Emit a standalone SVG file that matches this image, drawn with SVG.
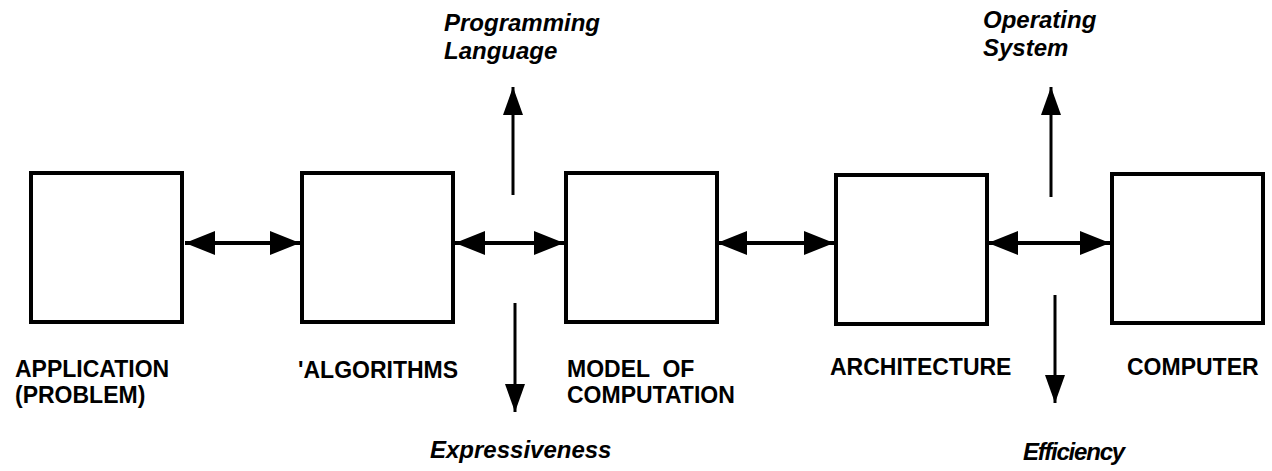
<svg xmlns="http://www.w3.org/2000/svg" width="1272" height="471" viewBox="0 0 1272 471">
<style>
.box{fill:#fff;stroke:#000;stroke-width:4}
.lbl{font-family:"Liberation Sans",Arial,sans-serif;font-weight:bold;font-size:23px;fill:#000}
.it{font-family:"Liberation Sans",Arial,sans-serif;font-weight:bold;font-style:italic;font-size:24px;fill:#000}
.dbl{stroke:#000;stroke-width:4;fill:none;marker-start:url(#hd);marker-end:url(#hd)}
.vert{stroke:#000;stroke-width:3;fill:none;marker-end:url(#hv)}
</style>
<defs>
<marker id="hd" markerUnits="userSpaceOnUse" markerWidth="30" markerHeight="24" refX="30" refY="12" orient="auto-start-reverse"><path d="M0,0 L30,12 L0,24 z" fill="#000"/></marker>
<marker id="hv" markerUnits="userSpaceOnUse" markerWidth="28" markerHeight="20" refX="28" refY="10" orient="auto"><path d="M0,0 L28,10 L0,20 z" fill="#000"/></marker>
</defs>
<rect width="1272" height="471" fill="#fff"/>
<g id="connectors">
<line class="dbl" x1="185" y1="243" x2="300" y2="243"/>
<line class="dbl" x1="455" y1="243" x2="564" y2="243"/>
<line class="dbl" x1="717" y1="243" x2="834" y2="243"/>
<line class="dbl" x1="988" y1="243" x2="1110" y2="243"/>
<line class="vert" x1="513" y1="195" x2="513" y2="87"/>
<line class="vert" x1="515" y1="303" x2="515" y2="412"/>
<line class="vert" x1="1051" y1="197" x2="1051" y2="87"/>
<line class="vert" x1="1055" y1="295" x2="1055" y2="403"/>
</g>
<g id="application">
<rect class="box" x="31" y="173" width="151" height="149"/>
<text class="lbl" x="15" y="377">APPLICATION</text>
<text class="lbl" x="15" y="403">(PROBLEM)</text>
</g>
<g id="algorithms">
<rect class="box" x="302" y="173" width="151" height="149"/>
<text class="lbl" x="298" y="378">'ALGORITHMS</text>
</g>
<g id="model">
<rect class="box" x="566" y="173" width="151" height="149"/>
<text class="lbl" x="567" y="377" xml:space="preserve">MODEL  OF</text>
<text class="lbl" x="567" y="403">COMPUTATION</text>
</g>
<g id="architecture">
<rect class="box" x="836" y="175" width="151" height="149"/>
<text class="lbl" x="830" y="375">ARCHITECTURE</text>
</g>
<g id="computer">
<rect class="box" x="1112" y="174" width="151" height="149"/>
<text class="lbl" x="1127" y="375">COMPUTER</text>
</g>
<g id="programming-language">
<text class="it" x="444" y="31">Programming</text>
<text class="it" x="444" y="59">Language</text>
</g>
<g id="expressiveness">
<text class="it" x="430" y="458">Expressiveness</text>
</g>
<g id="operating-system">
<text class="it" x="983" y="28">Operating</text>
<text class="it" x="983" y="56">System</text>
</g>
<g id="efficiency">
<text class="it" x="1023" y="460" style="letter-spacing:-1.2px">Efficiency</text>
</g>
</svg>
